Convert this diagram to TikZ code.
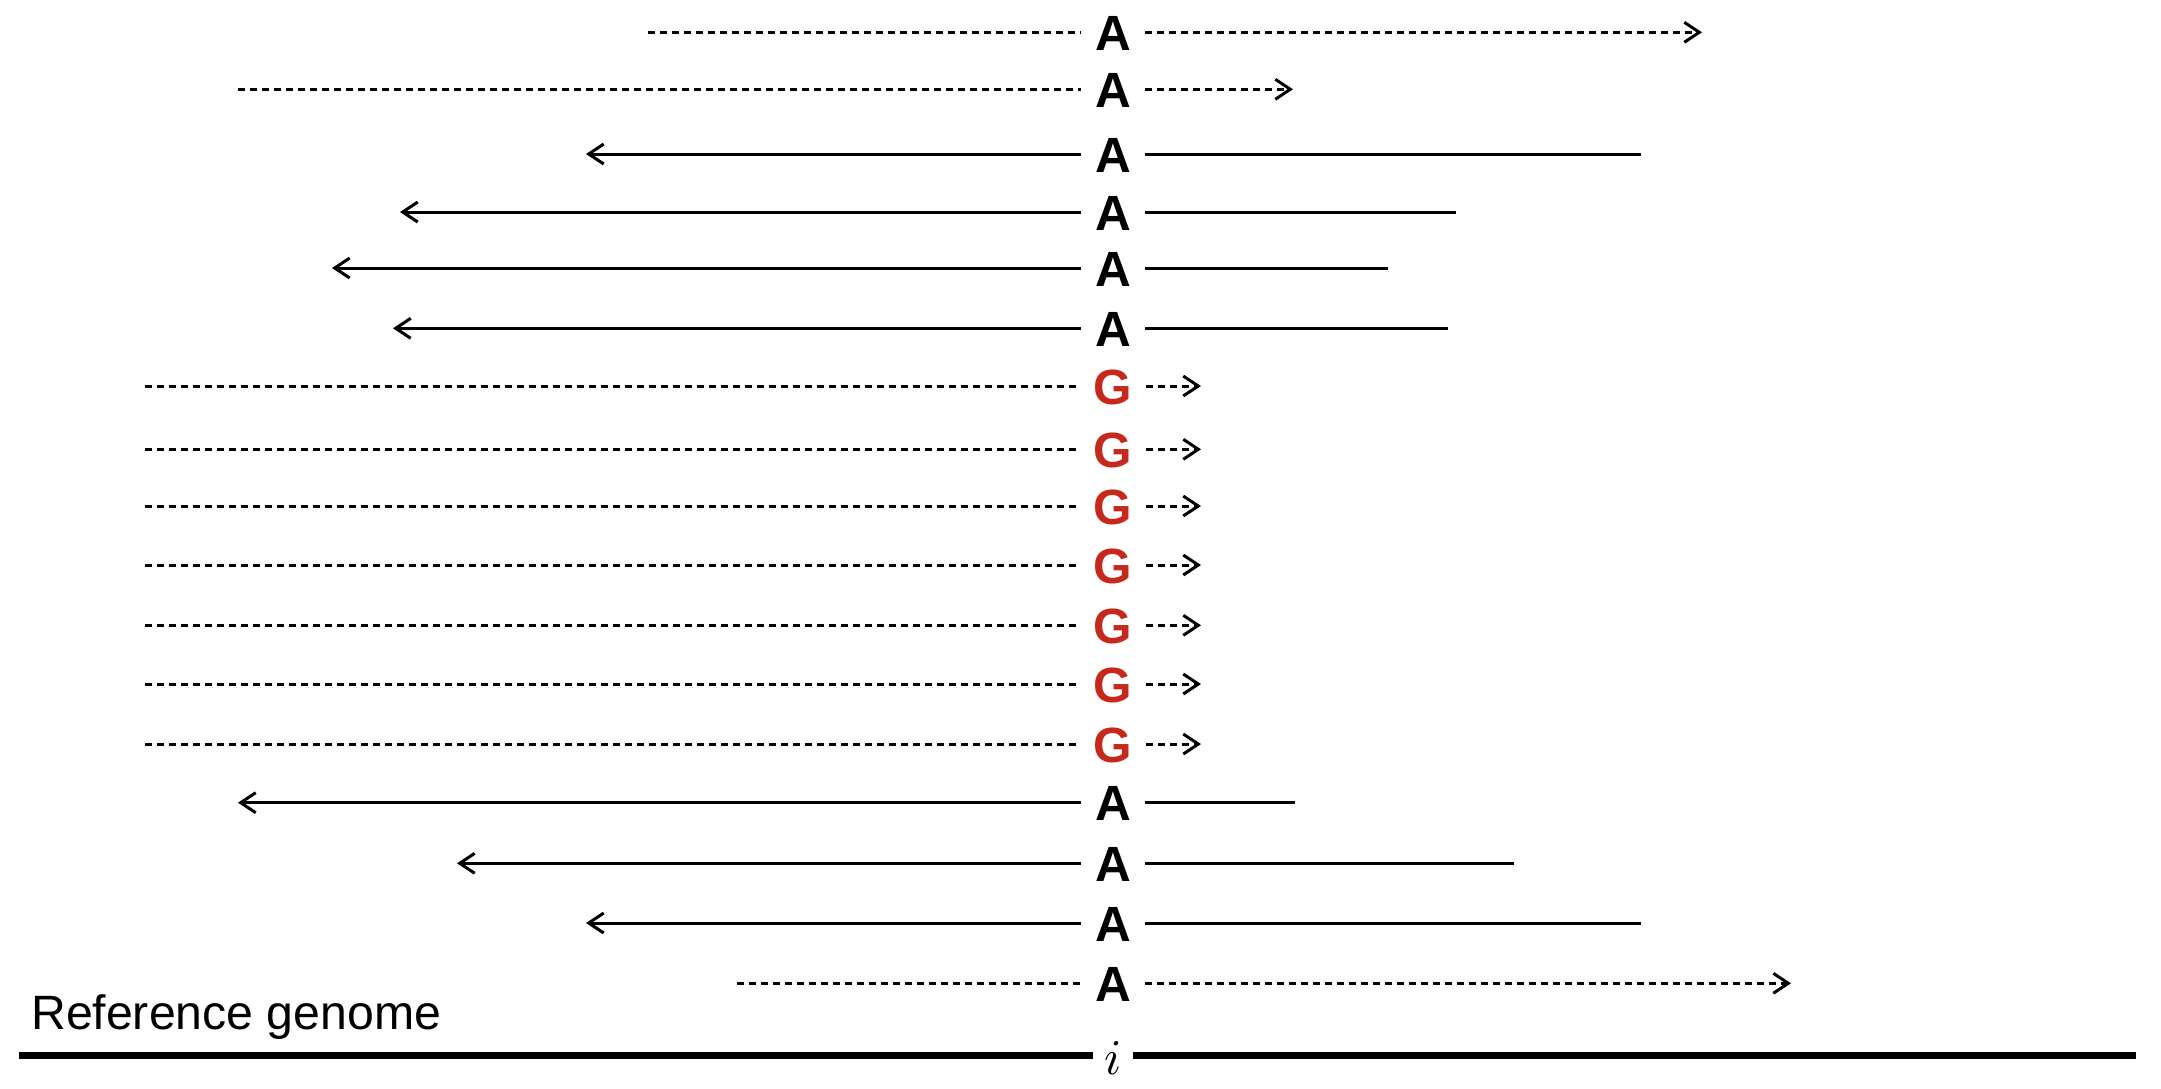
\documentclass[tikz,border=0pt]{standalone}
\usepackage{fontspec}
\setmainfont{Liberation Sans}
\usetikzlibrary{arrows.meta}
\definecolor{gred}{RGB}{198,40,28}
\tikzset{
  base/.style={font=\fontsize{49.5}{49.5}\selectfont\bfseries, inner xsep=14pt, inner ysep=0pt, text height=36pt, text depth=0pt, anchor=center},
  baseA/.style={base, text=black},
  baseG/.style={base, text=gred},
  solidread/.style={line width=3pt},
  dashread/.style={line width=3pt, dash pattern=on 7pt off 5pt},
  tip/.style={-{Straight Barb[length=15pt,width=20pt]}},
  genome/.style={line width=7pt},
}
\begin{document}
\begin{tikzpicture}[x=1pt,y=-1pt]
\useasboundingbox (0,0) rectangle (2161,1088);
% rows
\node[baseA] (n1) at (1113,32.3) {A};
\node[baseA] (n2) at (1113,89.3) {A};
\node[baseA] (n3) at (1113,154) {A};
\node[baseA] (n4) at (1113,212) {A};
\node[baseA] (n5) at (1113,268) {A};
\node[baseA] (n6) at (1113,328.3) {A};
\node[baseG] (n7) at (1113,386) {G};
\node[baseG] (n8) at (1113,449.3) {G};
\node[baseG] (n9) at (1113,506) {G};
\node[baseG] (n10) at (1113,565) {G};
\node[baseG] (n11) at (1113,625.3) {G};
\node[baseG] (n12) at (1113,684) {G};
\node[baseG] (n13) at (1113,744) {G};
\node[baseA] (n14) at (1113,802.7) {A};
\node[baseA] (n15) at (1113,863.3) {A};
\node[baseA] (n16) at (1113,923) {A};
\node[baseA] (n17) at (1113,983.3) {A};
% end coordinates
\coordinate (l1) at (648,32.3);   \coordinate (r1) at (1702,32.3);
\coordinate (l2) at (238,89.3);   \coordinate (r2) at (1293,89.3);
\coordinate (l3) at (586,154);    \coordinate (r3) at (1641,154);
\coordinate (l4) at (400,212);    \coordinate (r4) at (1456,212);
\coordinate (l5) at (332,268);    \coordinate (r5) at (1388,268);
\coordinate (l6) at (393,328.3);  \coordinate (r6) at (1448,328.3);
\coordinate (l7) at (145,386);    \coordinate (r7) at (1201,386);
\coordinate (l8) at (145,449.3);  \coordinate (r8) at (1201,449.3);
\coordinate (l9) at (145,506);    \coordinate (r9) at (1201,506);
\coordinate (l10) at (145,565);   \coordinate (r10) at (1201,565);
\coordinate (l11) at (145,625.3); \coordinate (r11) at (1201,625.3);
\coordinate (l12) at (145,684);   \coordinate (r12) at (1201,684);
\coordinate (l13) at (145,744);   \coordinate (r13) at (1201,744);
\coordinate (l14) at (238,802.7); \coordinate (r14) at (1295,802.7);
\coordinate (l15) at (457,863.3); \coordinate (r15) at (1514,863.3);
\coordinate (l16) at (586,923);   \coordinate (r16) at (1641,923);
\coordinate (l17) at (737,983.3); \coordinate (r17) at (1791,983.3);
% dashed reads (arrow to the right)
\foreach \k in {1,2,7,8,9,10,11,12,13,17}{
  \draw[dashread] (l\k) -- (n\k.west);
  \draw[dashread, tip] (n\k.east) -- (r\k);
}
% solid reads (arrow to the left)
\foreach \k in {3,4,5,6,14,15,16}{
  \draw[solidread, tip] (n\k.west) -- (l\k);
  \draw[solidread] (n\k.east) -- (r\k);
}
% reference genome
\node[anchor=base west, inner sep=0pt, font=\fontsize{48.2}{48.2}\selectfont] (reflabel) at (31,1029) {Reference genome};
\node[inner sep=0pt, minimum width=40pt, text height=37pt, text depth=0pt] (pos) at (1113,1055.5) {\scalebox{5}{$i$}};
\coordinate (gl) at (19,1055.5);
\coordinate (gr) at (2136,1055.5);
\draw[genome] (gl) -- (pos.west);
\draw[genome] (pos.east) -- (gr);
\end{tikzpicture}
\end{document}
